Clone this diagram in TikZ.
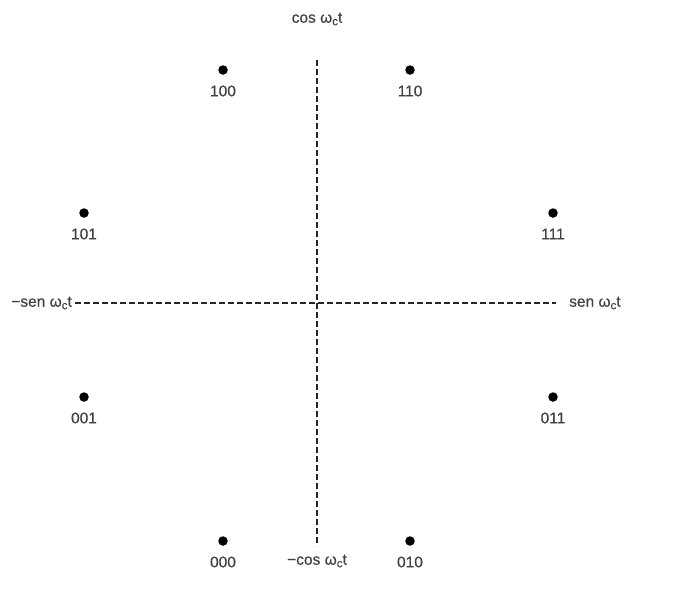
\documentclass[tikz,border=0pt]{standalone}
\usepackage{fontspec}
\setmainfont[FakeBold=0.5,AutoFakeBold=0.5]{Liberation Sans}
\newcommand{\mysub}[1]{\raisebox{-0.3ex}{\fontsize{11.5}{12}\selectfont #1}}
\begin{document}
\begin{tikzpicture}[x=1pt,y=-1pt,
  axis/.style={line width=1.7pt, dash pattern=on 6pt off 3pt, black!85},
  pt/.style={circle, fill=black, inner sep=0pt, minimum size=9.5pt},
  lbl/.style={text=black!75, font=\fontsize{15.5}{17}\selectfont\bfseries, inner sep=0pt},
]
\useasboundingbox (0,0) rectangle (678,590);
\coordinate (top) at (317,60);
\coordinate (bot) at (317,546);
\coordinate (lft) at (75,303);
\coordinate (rgt) at (556,303);
\draw[axis] (top) -- (bot);
\draw[axis] (lft) -- (rgt);
\node[lbl] (cosl) at (317,19) {cos ω\mysub{c}t};
\node[lbl] (mcosl) at (317,561) {−cos ω\mysub{c}t};
\node[lbl, anchor=east] (msenl) at (72,303) {−sen ω\mysub{c}t};
\node[lbl, anchor=west] (senl) at (569,303) {sen ω\mysub{c}t};
\foreach \n/\x/\y in {100/223/70, 110/410/70, 101/84/213, 111/553/213, 001/84/397, 011/553/397, 000/223/541, 010/410/541}{
  \node[pt] (p\n) at (\x,\y) {};
  \node[lbl] (l\n) at (\x,\y+21) {\n};
}
\end{tikzpicture}
\end{document}
